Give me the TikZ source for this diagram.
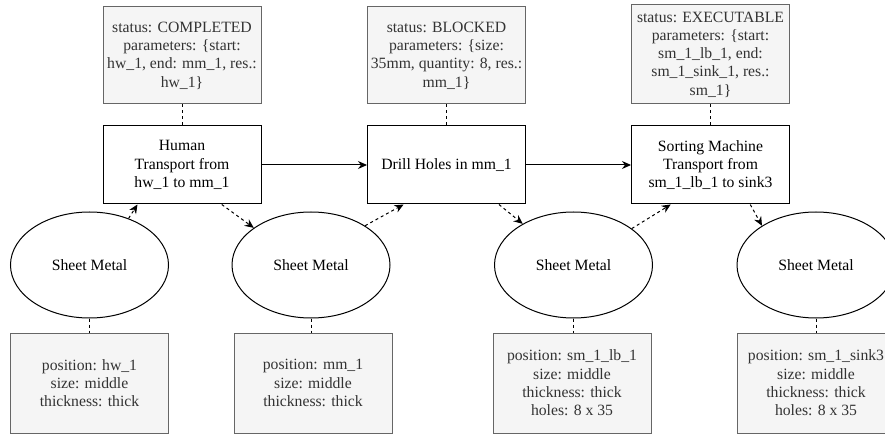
\documentclass[tikz,border=0pt]{standalone}
\usepackage{fontspec}
\setmainfont{Liberation Serif}
\usetikzlibrary{arrows.meta,shapes.geometric,calc}
\definecolor{infofill}{HTML}{F5F5F5}
\definecolor{infoline}{HTML}{666666}
\definecolor{infotext}{HTML}{333333}
\begin{document}
\begin{tikzpicture}[x=1pt,y=-1pt,
    every node/.style={font=\fontsize{15.7}{18.3}\selectfont,align=center,inner sep=0pt},
    task/.style={draw,line width=1pt,minimum width=158pt,minimum height=78pt},
    info/.style={draw=infoline,fill=infofill,text=infotext,line width=1pt,minimum width=158pt},
    part/.style={draw,ellipse,line width=1pt,minimum width=158pt,minimum height=106pt},
    link/.style={line width=1pt,dash pattern=on 3pt off 3pt},
    flow/.style={line width=1pt,-{Stealth[length=9pt,width=8pt]}}]
    \useasboundingbox (0,0) rectangle (885,435);
    \node[info,minimum height=97pt] (s1) at (182,55.5) {status: COMPLETED\\parameters: \{start:\\hw\_1, end: mm\_1, res.:\\hw\_1\}};
    \node[info,minimum height=97pt] (s2) at (446.5,55.5) {status: BLOCKED\\parameters: \{size:\\35mm, quantity: 8, res.:\\mm\_1\}};
    \node[info,minimum height=99pt] (s3) at (710.5,54.5) {status: EXECUTABLE\\parameters: \{start:\\sm\_1\_lb\_1, end:\\sm\_1\_sink\_1, res.:\\sm\_1\}};
    \node[task] (t1) at (182,165) {Human\\Transport from\\hw\_1 to mm\_1};
    \node[task] (t2) at (446.5,165) {Drill Holes in mm\_1};
    \node[task] (t3) at (710.5,165) {Sorting Machine\\Transport from\\sm\_1\_lb\_1 to sink3};
    \foreach \x/\n in {89.5/1,311/2,573.5/3,816/4}
      \node[part] (p\n) at (\x,265) {Sheet Metal};
    \node[info,minimum height=100pt] (m1) at (89.5,383) {position: hw\_1\\size: middle\\thickness: thick};
    \node[info,minimum height=100pt] (m2) at (313,383) {position: mm\_1\\size: middle\\thickness: thick};
    \node[info,minimum height=100pt] (m3) at (572,383) {position: sm\_1\_lb\_1\\size: middle\\thickness: thick\\holes: 8 x 35};
    \node[info,minimum height=100pt] (m4) at (816,383) {position: sm\_1\_sink3\\size: middle\\thickness: thick\\holes: 8 x 35};
    \foreach \n in {1,2,3}
      \draw[link] (s\n) -- (t\n);
    \foreach \n in {1,...,4}
      \draw[link] (p\n.south) -- (p\n.south |- m\n.north);
    \draw[flow] (t1) -- (t2);
    \draw[flow] (t2) -- (t3);
    \draw[flow,link] (p1.50) -- ($(t1.south west)!0.22!(t1.south east)$);
    \draw[flow,link] ($(t1.south west)!0.75!(t1.south east)$) -- (p2.147);
    \draw[flow,link] (p2.36) -- ($(t2.south west)!0.23!(t2.south east)$);
    \draw[flow,link] ($(t2.south west)!0.83!(t2.south east)$) -- (p3.141);
    \draw[flow,link] (p3.32) -- ($(t3.south west)!0.25!(t3.south east)$);
    \draw[flow,link] ($(t3.south west)!0.75!(t3.south east)$) -- (p4.144);
  \end{tikzpicture}
\end{document}
